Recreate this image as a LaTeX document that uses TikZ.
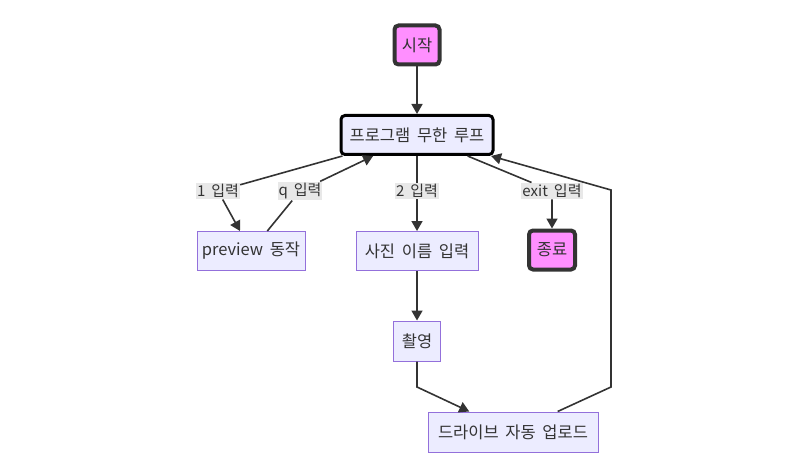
\documentclass[tikz,border=0pt]{standalone}
\usepackage{fontspec}
\setmainfont{Noto Sans CJK KR}[WordSpace=1.8]
\usetikzlibrary{arrows.meta}
\definecolor{camPink}{RGB}{255,143,255}
\definecolor{camLav}{RGB}{236,236,255}
\definecolor{camPurple}{RGB}{147,112,219}
\definecolor{camDark}{RGB}{51,51,51}
\definecolor{camGray}{RGB}{232,232,232}
\begin{document}
\begin{tikzpicture}[x=1pt, y=-1pt,
    box/.style={rectangle, draw=camPurple, fill=camLav, line width=1pt,
                minimum height=39pt, inner sep=0pt, text=camDark,
                font=\fontsize{16.5}{20}\selectfont},
    term/.style={box, draw=camDark, fill=camPink, line width=4pt,
                 rounded corners=4pt},
    lbl/.style={fill=camGray, inner xsep=1pt, inner ysep=1.5pt, text=camDark,
                font=\fontsize{15}{18}\selectfont},
    flow/.style={draw=camDark, line width=1.6pt, -{Triangle[length=10pt,width=11pt]}}
  ]
  \useasboundingbox (0,0) rectangle (791,465);
  \node[term, minimum width=45pt] (start) at (417,45) {시작};
  \node[box, draw=black, line width=3pt, rounded corners=4pt,
        minimum width=152pt] (loop) at (417,135) {프로그램 무한 루프};
  \node[box, minimum width=108pt] (preview) at (251,251) {preview 동작};
  \node[box, minimum width=122pt] (photo)   at (417,251) {사진 이름 입력};
  \node[term, minimum width=46pt] (end)     at (552,250) {종료};
  \node[box, minimum width=47pt, minimum height=40pt] (shoot) at (417,341) {촬영};
  \node[box, minimum width=170pt, minimum height=40pt] (drive) at (513,432) {드라이브 자동 업로드};

  % edge labels
  \node[lbl] (l1)   at (218,191) {1 입력};
  \node[lbl] (lq)   at (300,191) {q 입력};
  \node[lbl] (l2)   at (417,191) {2 입력};
  \node[lbl] (lexit) at (552,191) {exit 입력};
  \coordinate (bendA) at (417,387);
  \coordinate (bendB) at (611,387);
  \coordinate (bendC) at (611,190);

  \draw[flow] (start) -- (loop);
  \draw[flow] (loop) -- (l1) -- (preview);
  \draw[flow] (preview) -- (lq) -- (loop);
  \draw[flow] (loop) -- (l2) -- (photo);
  \draw[flow] (loop) -- (lexit) -- (end);
  \draw[flow] (photo) -- (shoot);
  \draw[flow] (shoot) -- (bendA) -- (drive);
  \draw[flow] (drive) -- (bendB) -- (bendC) -- (loop);
\end{tikzpicture}
\end{document}
